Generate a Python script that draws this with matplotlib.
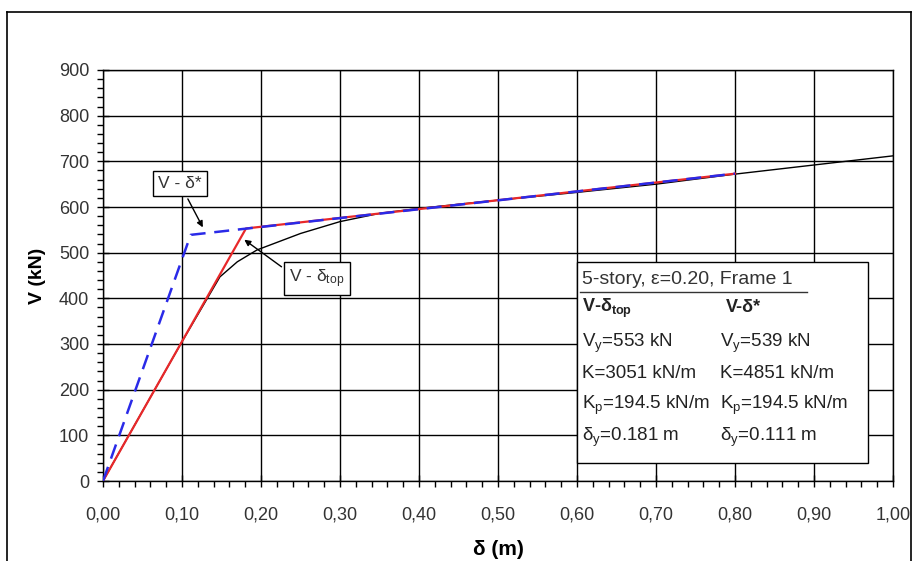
import numpy as np
import matplotlib.pyplot as plt
from matplotlib.ticker import MultipleLocator, FuncFormatter
from matplotlib.patches import Rectangle
from matplotlib.lines import Line2D

plt.rcParams['font.family'] = ['Liberation Sans', 'DejaVu Sans']
plt.rcParams['mathtext.fontset'] = 'custom'
plt.rcParams['mathtext.rm'] = 'Liberation Sans'
plt.rcParams['mathtext.it'] = 'Liberation Sans'
plt.rcParams['mathtext.bf'] = 'Liberation Sans:bold'
plt.rcParams['mathtext.default'] = 'regular'

# pushover (capacity) curve
cap_d = [0.0, 0.05, 0.10, 0.148, 0.17, 0.195, 0.25, 0.30, 0.35, 0.40, 0.50, 0.60, 0.70, 0.80, 0.90, 1.00]
cap_v = [0, 153, 305, 447, 480, 506, 542, 568, 586, 597, 615, 632, 650, 672, 692, 712]

# bilinear idealisations
top_d = [0.0, 0.181, 0.80]
top_v = [0, 553, 673]
star_d = [0.0, 0.111, 0.80]
star_v = [0, 539, 673]

fig = plt.figure(figsize=(9.14, 5.61), dpi=100)
ax = fig.add_axes([103 / 914, 1 - 481 / 561, 790 / 914, 411 / 561])

# outer chart frame
fx0, fy0, fx1 = 7 / 914, 1 - 12 / 561, 911 / 914
for xs, ys in [([fx0, fx0], [0, fy0]), ([fx0, fx1], [fy0, fy0]), ([fx1, fx1], [fy0, 0])]:
    fig.add_artist(Line2D(xs, ys, color='black', lw=1.2, transform=fig.transFigure))

ax.plot(cap_d, cap_v, color='black', lw=1.0, zorder=3)
ax.plot(top_d, top_v, color='#e8282a', lw=1.6, zorder=4)
ax.plot(star_d, star_v, color='#2a2ae8', lw=1.8, ls=(0, (6, 3.5)), zorder=5)

ax.set_xlim(0, 1.0)
ax.set_ylim(0, 900)
ax.xaxis.set_major_locator(MultipleLocator(0.1))
ax.xaxis.set_minor_locator(MultipleLocator(0.02))
ax.yaxis.set_major_locator(MultipleLocator(100))
ax.yaxis.set_minor_locator(MultipleLocator(20))
ax.xaxis.set_major_formatter(FuncFormatter(lambda v, p: f'{v:.2f}'.replace('.', ',')))
ax.tick_params(which='major', direction='inout', length=8, width=1, labelsize=13,
               colors='black', labelcolor='#333333')
ax.tick_params(which='minor', direction='out', length=4, width=1)
ax.tick_params(axis='x', pad=14)
ax.tick_params(axis='y', pad=6)
ax.grid(True, which='major', color='black', lw=1.0)
for s in ax.spines.values():
    s.set_linewidth(1.0)

ax.set_xlabel('δ (m)', fontsize=15, fontweight='bold', labelpad=12)
ax.set_ylabel('V (kN)', fontsize=14, fontweight='bold', labelpad=9)

# annotation callouts
bbox = dict(boxstyle='square,pad=0.3', fc='white', ec='black', lw=1.0)
arrow = dict(arrowstyle='-|>', color='black', lw=1.0, mutation_scale=9)
ax.annotate('V - δ*', xy=(0.128, 550), xytext=(0.097, 652), ha='center', va='center',
            fontsize=12.5, color='#333333', bbox=bbox, arrowprops=arrow, zorder=6)
ax.annotate(r'V - δ$_{top}$', xy=(0.176, 532), xytext=(0.271, 444), ha='center', va='center',
            fontsize=12.5, color='#333333', bbox=bbox,
            arrowprops=dict(arrow, relpos=(0.0, 0.75)), zorder=6)

# properties box
ax.add_patch(Rectangle((0.60, 40), 0.368, 439, fc='white', ec='black', lw=1.0, zorder=6))
ax.text(0.606, 441, '5-story, ε=0.20, Frame 1', fontsize=14, color='#333333', va='center', zorder=7)
ax.plot([0.604, 0.891], [414, 414], color='#333333', lw=1.0, zorder=7)

c1, c2 = 0.606, 0.781
rows = [
    (r'V-δ$_{top}$', 'V-δ*', 379, 'bold'),
    (r'V$_y$=553 kN', r'V$_y$=539 kN', 302, 'normal'),
    ('K=3051 kN/m', 'K=4851 kN/m', 236, 'normal'),
    (r'K$_p$=194.5 kN/m', r'K$_p$=194.5 kN/m', 166, 'normal'),
    (r'δ$_y$=0.181 m', r'δ$_y$=0.111 m', 96, 'normal'),
]
for left, right, yv, w in rows:
    fs = 13 if w == 'bold' else 13.5
    ax.text(c1, yv, left, fontsize=fs, va='center', fontweight=w, color='#222222', zorder=7)
    ax.text(c2 + (0.0 if w == 'normal' else 0.008), yv, right, fontsize=fs, va='center',
            fontweight=w, color='#222222', zorder=7)

fig.savefig('out.png', dpi=100)
